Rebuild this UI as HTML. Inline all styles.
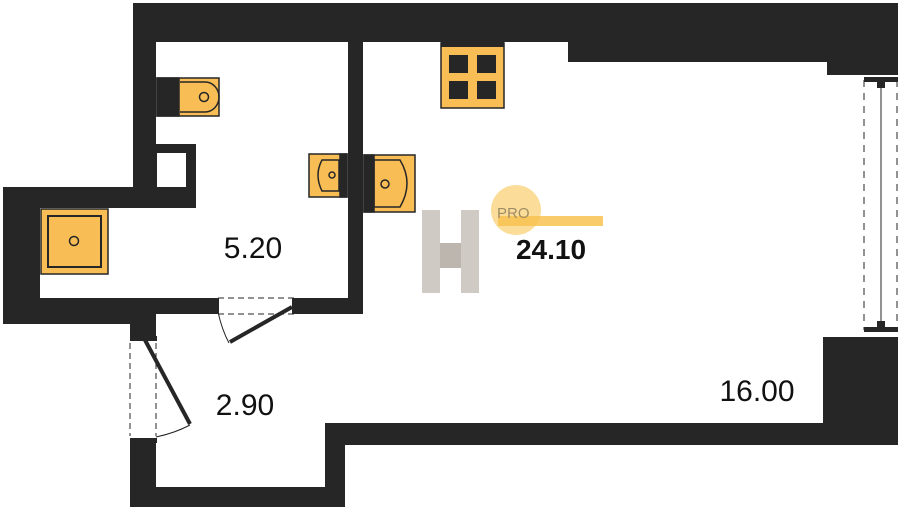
<!DOCTYPE html>
<html><head><style>body{margin:0;background:#fff;}svg{display:block}</style></head><body>
<svg width="900" height="511" viewBox="0 0 900 511" xmlns="http://www.w3.org/2000/svg" font-family="Liberation Sans, sans-serif">
<g fill="#262626">
<!-- top walls -->
<rect x="133" y="3" width="765" height="39"/>
<rect x="568" y="3" width="330" height="59"/>
<rect x="827" y="3" width="71" height="72"/>
<!-- upper left wall -->
<rect x="133" y="3" width="23" height="205"/>
<!-- small box -->
<path d="M156 144H196V207H156Z M157 153V197H186V153Z" fill-rule="evenodd"/>
<!-- left protrusion -->
<rect x="3" y="187" width="193" height="21"/>
<rect x="3" y="187" width="37" height="137"/>
<rect x="3" y="298" width="153" height="26"/>
<!-- bath bottom wall -->
<rect x="40" y="298" width="173" height="16"/>
<rect x="298" y="298" width="65" height="16"/>
<!-- partition -->
<rect x="348" y="42" width="15" height="272"/>
<!-- corridor left wall -->
<rect x="130" y="314" width="26" height="24"/>
<rect x="130" y="440" width="26" height="67"/>
<!-- bottom -->
<rect x="130" y="487" width="215" height="20"/>
<rect x="325" y="423" width="20" height="84"/>
<rect x="325" y="423" width="573" height="22"/>
<rect x="823" y="337" width="75" height="108"/>
</g>
<!-- window right -->
<g stroke="#262626" fill="none">
<line x1="864" y1="80" x2="864" y2="330" stroke-dasharray="7,6"/>
<line x1="897" y1="80" x2="897" y2="330" stroke-dasharray="7,6"/>
<line x1="881" y1="85" x2="881" y2="325"/>
</g>
<rect x="864" y="77" width="34" height="5" fill="#262626"/>
<rect x="864" y="327" width="34" height="5" fill="#262626"/>
<rect x="877" y="82" width="8" height="6" fill="#262626"/>
<rect x="877" y="321" width="8" height="6" fill="#262626"/>
<!-- bath door -->
<g stroke="#262626" fill="none">
<line x1="218" y1="298" x2="294" y2="298" stroke-dasharray="6,4"/>
<line x1="218" y1="314" x2="294" y2="314" stroke-dasharray="6,4"/>
<path d="M218 312 Q222 330 229 343"/>
<line x1="230" y1="342" x2="292" y2="307" stroke-width="4"/>
<!-- entry door -->
<line x1="130" y1="343" x2="130" y2="436" stroke-dasharray="6,4"/>
<line x1="156" y1="343" x2="156" y2="436" stroke-dasharray="6,4"/>
<line x1="145" y1="340" x2="190" y2="424" stroke-width="4"/>
<path d="M156 437 Q175 433 190 425"/>
</g>
<rect x="213" y="298" width="6" height="16" fill="#262626"/>
<rect x="292" y="298" width="6" height="16" fill="#262626"/>
<rect x="130" y="336" width="27" height="5" fill="#262626"/>
<rect x="130" y="438" width="27" height="5" fill="#262626"/>
<!-- fixtures -->
<g stroke="#262626" stroke-width="1.5">
<rect x="157" y="78" width="62" height="38" fill="#f8bd55"/>
<rect x="157" y="78" width="22" height="38" fill="#262626"/>
<path d="M180 82H205A14 15 0 0 1 205 112H180" fill="none"/>
<circle cx="204" cy="97" r="4.5" fill="none"/>
<rect x="309" y="154" width="38" height="43" fill="#f8bd55"/>
<rect x="340" y="154" width="7" height="43" fill="#262626"/>
<path d="M339 160H322Q314 175 322 191H339Z" fill="none"/>
<circle cx="332" cy="175" r="3" fill="none"/>
<rect x="364" y="155" width="51" height="57" fill="#f8bd55"/>
<rect x="364" y="155" width="10" height="57" fill="#262626"/>
<path d="M374 160H400Q414 183 400 207H374Z" fill="none"/>
<circle cx="385" cy="184" r="4" fill="none"/>
<rect x="41" y="209" width="67" height="65" fill="#f8bd55"/>
<rect x="48" y="216" width="53" height="51" fill="none" stroke-width="2"/>
<circle cx="74" cy="241" r="4.5" fill="none"/>
<rect x="441" y="43" width="63" height="65" fill="#f8bd55"/>
</g>
<rect x="441" y="42" width="63" height="5" fill="#262626"/>
<g fill="#262626">
<rect x="449" y="55" width="19" height="18"/><rect x="477" y="55" width="19" height="18"/>
<rect x="449" y="81" width="19" height="18"/><rect x="477" y="81" width="19" height="18"/>
</g>
<!-- logo -->
<g fill="#cfcac4">
<rect x="422" y="210" width="18" height="83"/>
<rect x="461" y="210" width="18" height="83"/>
<polygon points="440,243 461,243 461,268 440,268" fill="#bdb6ae"/>
</g>
<circle cx="516" cy="210" r="25" fill="#fbd98e" opacity="0.9"/>
<rect x="498" y="216" width="105" height="10" fill="#f8c250" opacity="0.85"/>
<text x="497" y="218" font-size="15" fill="#a08c64">PRO</text>
<!-- labels -->
<text x="253" y="258" font-size="30" text-anchor="middle" fill="#111">5.20</text>
<text x="245" y="415" font-size="30" text-anchor="middle" fill="#111">2.90</text>
<text x="757" y="401" font-size="30" text-anchor="middle" fill="#111">16.00</text>
<text x="551" y="259" font-size="28" font-weight="bold" text-anchor="middle" fill="#111">24.10</text>
</svg>
</body></html>
